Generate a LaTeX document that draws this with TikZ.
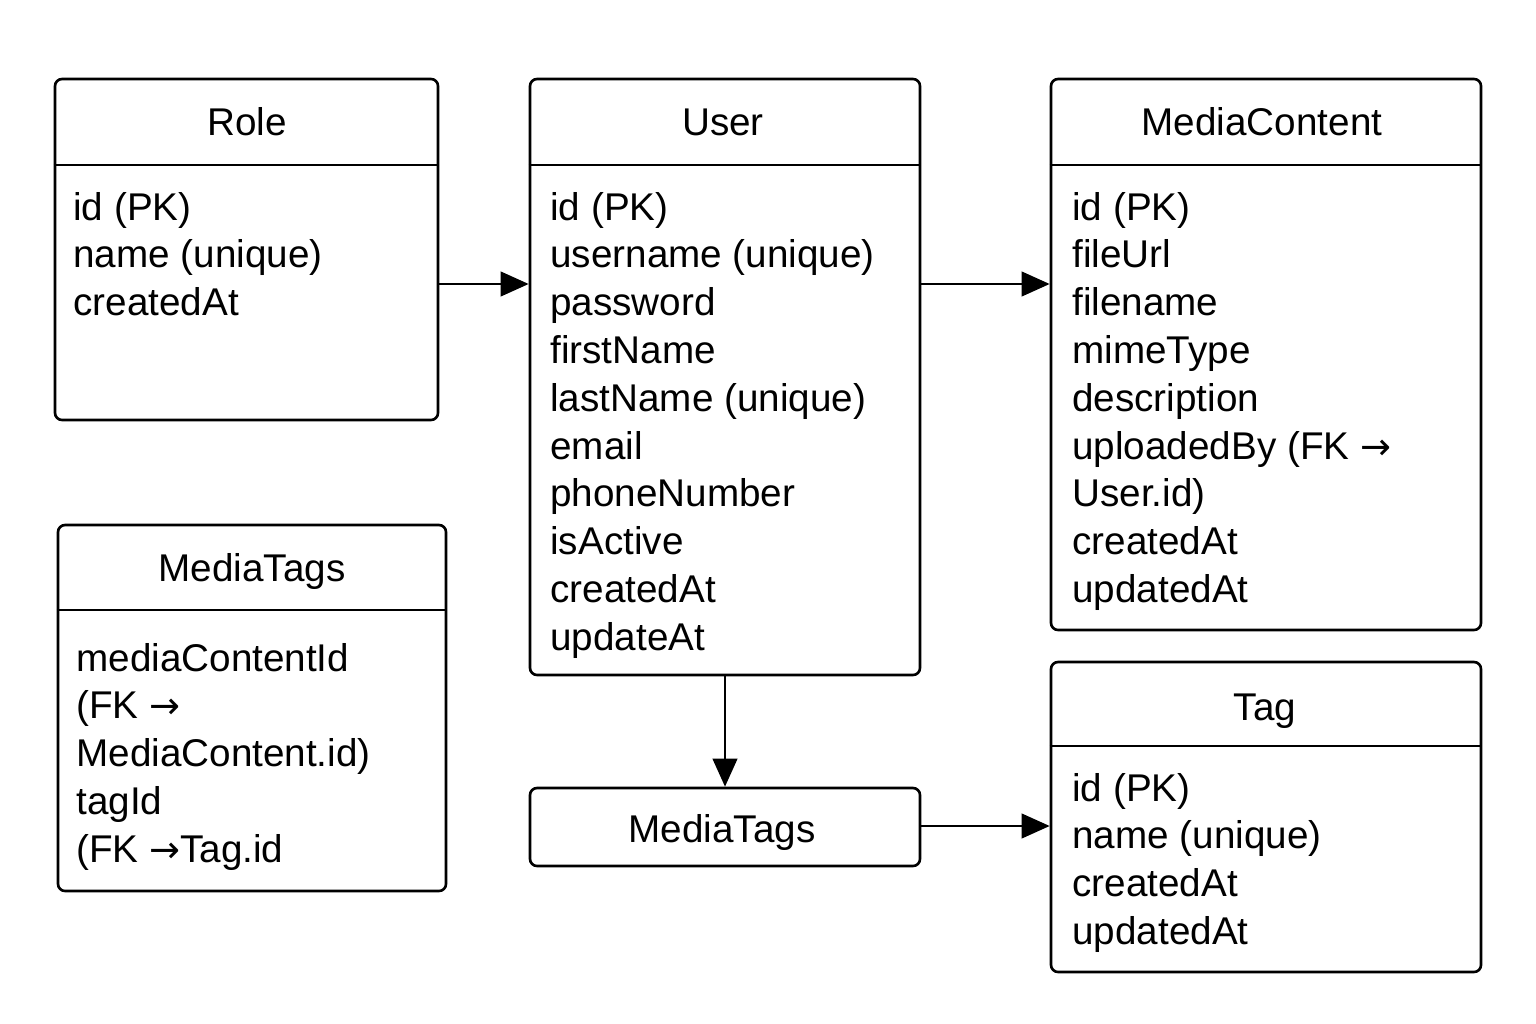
\documentclass[tikz,border=0pt]{standalone}
\usepackage{fontspec}
\setmainfont{Liberation Sans}
\newfontfamily\symf{DejaVu Sans}
\usetikzlibrary{arrows.meta,fit}
\newcommand{\ra}{{\symf\fontsize{21}{24}\selectfont →}}
\begin{document}
\begin{tikzpicture}[x=0.02cm,y=-0.02cm,
  box/.style={draw, line width=1.5pt, rounded corners=4pt, inner sep=0pt},
  ttl/.style={anchor=base, inner sep=0pt, font=\fontsize{22}{27}\selectfont},
  attr/.style={anchor=base west, inner sep=0pt, font=\fontsize{22}{27}\selectfont},
  arr/.style={line width=1.5pt, -{Triangle[length=16pt,width=14pt]}},
  sep/.style={line width=1.5pt}]
\useasboundingbox (0,0) rectangle (1536,1024);

% boxes
\node[box, fit={(55,79) (438,420)}] (role) {};
\node[box, fit={(530,79) (920,675)}] (user) {};
\node[box, fit={(1051,79) (1481,630)}] (media) {};
\node[box, fit={(58,525) (446,891)}] (mtleft) {};
\node[box, fit={(530,788) (920,866)}] (mtmid) {};
\node[box, fit={(1051,662) (1481,972)}] (tag) {};

% header separators
\coordinate (h1) at (0,165);
\coordinate (h2) at (0,610);
\coordinate (h3) at (0,746);
\draw[sep] (role.west |- h1) -- (role.east |- h1);
\draw[sep] (user.west |- h1) -- (user.east |- h1);
\draw[sep] (media.west |- h1) -- (media.east |- h1);
\draw[sep] (mtleft.west |- h2) -- (mtleft.east |- h2);
\draw[sep] (tag.west |- h3) -- (tag.east |- h3);

% titles
\node[ttl] (roleT) at (247,136) {Role};
\node[ttl] (userT) at (723,136) {User};
\node[ttl] (mediaT) at (1262,136) {MediaContent};
\node[ttl] (mtleftT) at (252,581) {MediaTags};
\node[ttl] (mtmidT) at (722,842) {MediaTags};
\node[ttl] (tagT) at (1265,720) {Tag};

% attributes
\foreach \t [count=\i] in {{id (PK)},{name (unique)},{createdAt}}
  \node[attr] (role-\i) at (73,{220+47.8*(\i-1)}) {\t};
\foreach \t [count=\i] in {{id (PK)},{username (unique)},{password},{firstName},{lastName (unique)},{email},{phoneNumber},{isActive},{createdAt},{updateAt}}
  \node[attr] (user-\i) at (550,{220+47.8*(\i-1)}) {\t};
\foreach \t [count=\i] in {{id (PK)},{fileUrl},{filename},{mimeType},{description},{uploadedBy (FK \ra},{User.id)},{createdAt},{updatedAt}}
  \node[attr] (media-\i) at (1072,{220+47.8*(\i-1)}) {\t};
\foreach \t [count=\i] in {{mediaContentId},{(FK \ra},{MediaContent.id)},{tagId},{(FK \ra Tag.id}}
  \node[attr] (mtl-\i) at (76,{671+47.8*(\i-1)}) {\t};
\foreach \t [count=\i] in {{id (PK)},{name (unique)},{createdAt},{updatedAt}}
  \node[attr] (tag-\i) at (1072,{801+47.8*(\i-1)}) {\t};

% connectors
\coordinate (a1) at (0,284);
\coordinate (a2) at (0,826);
\draw[arr] (role.east |- a1) -- (user.west |- a1);
\draw[arr] (user.east |- a1) -- (media.west |- a1);
\draw[arr] (user.south) -- (mtmid.north);
\draw[arr] (mtmid.east |- a2) -- (tag.west |- a2);
\end{tikzpicture}
\end{document}
